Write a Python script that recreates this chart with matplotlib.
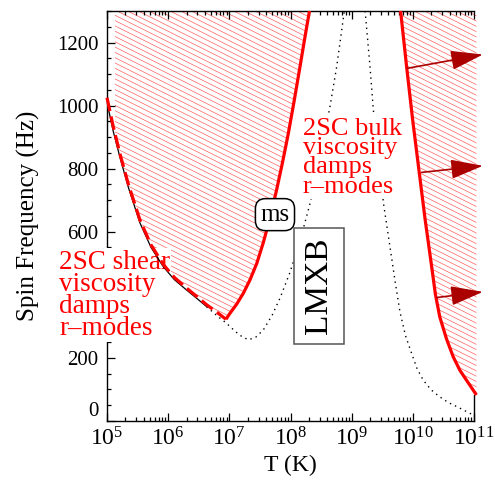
import numpy as np
import matplotlib
matplotlib.use('Agg')
import matplotlib.pyplot as plt
from matplotlib.patches import Polygon
from matplotlib.collections import LineCollection
from matplotlib.ticker import LogLocator, MultipleLocator, FuncFormatter, NullFormatter

plt.rcParams['font.family'] = ['Liberation Serif', 'DejaVu Serif']
plt.rcParams['mathtext.fontset'] = 'custom'
plt.rcParams['mathtext.rm'] = 'Liberation Serif'
plt.rcParams['mathtext.it'] = 'Liberation Serif:italic'
plt.rcParams['mathtext.bf'] = 'Liberation Serif:bold'

# ---------------- data (log10 T [K], spin frequency [Hz]) ----------------
# ordinary neutron-star r-mode window (black), low-T branch
ms_low_logT = [5.00, 5.10, 5.21, 5.35, 5.54, 5.72, 5.92, 6.10, 6.30, 6.47, 6.63,
               6.80, 6.95, 7.10, 7.20, 7.31, 7.43, 7.555, 7.70, 7.83, 7.99, 8.155,
               8.32, 8.50, 8.645, 8.755, 8.88]
ms_low_f = [1010, 920, 837, 740, 627, 550, 489, 448, 415, 388, 362,
            333, 310, 283, 268, 257, 265, 288, 335, 390, 470, 570,
            690, 850, 996, 1123, 1300]
# high-T branch (black dotted)
ms_high_logT = [9.22, 9.30, 9.355, 9.44, 9.52, 9.62, 9.72, 9.79, 9.88, 9.98,
                10.07, 10.17, 10.30, 10.44, 10.58, 10.72, 10.85, 10.93, 11.0]
ms_high_f = [1300, 1123, 985, 830, 690, 560, 430, 345, 270, 214,
             165, 129, 98, 76, 58, 45, 32, 24, 18]
# 2SC shear viscosity boundary (red dashed part, then red solid rising part)
shear_logT = [5.00, 5.10, 5.21, 5.35, 5.54, 5.72, 5.92, 6.10, 6.30, 6.47, 6.63,
              6.80, 6.945]
shear_f = [1025, 935, 848, 750, 636, 558, 496, 455, 421, 394, 368, 344, 322]
rise_logT = [6.945, 7.01, 7.12, 7.23, 7.34, 7.45, 7.555, 7.66, 7.77, 7.87,
             7.965, 8.06, 8.155, 8.23, 8.31]
rise_f = [322, 341, 370, 405, 448, 500, 565, 640, 730, 820,
          912, 1015, 1123, 1210, 1300]
# 2SC bulk viscosity boundary (red solid)
bulk_logT = [9.80, 9.90, 10.00, 10.10, 10.20, 10.30, 10.37, 10.44, 10.55,
             10.66, 10.77, 10.88, 10.96, 11.04]
bulk_f = [1300, 1120, 950, 795, 640, 500, 400, 330, 260, 203, 160, 128, 105, 82]
# arrows: start on bulk curve -> tip
arrow_start_logT = [9.905, 10.145, 10.39]
arrow_start_f = [1118, 788, 391]
arrow_tip_logT = [11.147, 11.147, 11.147]
arrow_tip_f = [1162, 809, 409]

x_ticks_exp = [5, 6, 7, 8, 9, 10, 11]
y_ticks = [0, 200, 400, 600, 800, 1000, 1200]
y_tick_labels = ['0', '200', '', '600', '800', '1000', '1200']  # 400 hidden by label box

T = lambda a: 10.0 ** np.asarray(a)

# ---------------- figure ----------------
W, H = 495, 480
fig = plt.figure(figsize=(W / 100, H / 100), dpi=100)
ax_l, ax_r, ax_t, ax_b = 107, 474, 11, 420.8
ax = fig.add_axes([ax_l / W, 1 - ax_b / H, (ax_r - ax_l) / W, (ax_b - ax_t) / H])
ax.set_xscale('log')
ax.set_xlim(1e5, 1e11)
ax.set_ylim(0, 1300)

red = '#ff0000'
hatch_col = '#ff5f5f'

# hatch regions
top = 1300
left_x0 = 5.13
left_poly = ([(T(left_x0), top), (T(left_x0), np.interp(left_x0, shear_logT, shear_f))]
             + [(T(a), b) for a, b in zip(shear_logT, shear_f) if a > left_x0]
             + [(T(a), b) for a, b in zip(rise_logT[1:], rise_f[1:])])
right_poly = [(T(a), b) for a, b in zip(bulk_logT, bulk_f)] + [(T(bulk_logT[-1]), top)]

Wa, Ha = ax_r - ax_l, ax_b - ax_t
slope = 0.5 * Wa / Ha
cs = np.arange(-0.1, 1.8, 5.3 / Ha)
segs = [[(-0.05, c + slope * 0.05), (1.05, c - slope * 1.05)] for c in cs]
for pts in (left_poly, right_poly):
    poly = Polygon(pts, closed=True, facecolor='none', edgecolor='none',
                   transform=ax.transData, clip_on=False)
    ax.add_patch(poly)
    lc = LineCollection(segs, transform=ax.transAxes, colors=hatch_col,
                        linewidths=0.5, zorder=1)
    lc.set_clip_path(poly)
    ax.add_collection(lc, autolim=False)

# black curves
low = np.array(ms_low_logT)
lowf = np.array(ms_low_f)
solid = low <= 6.63
dotted = low >= 6.63
ax.plot(T(low[solid]), lowf[solid], color='black', lw=0.9, zorder=3)
ax.plot(T(low[dotted]), lowf[dotted], color='black', lw=1.0, ls=(0, (1, 3)), zorder=2)
ax.plot(T(ms_high_logT), ms_high_f, color='black', lw=1.0, ls=(0, (1, 3)), zorder=2)

# red boundaries
ax.plot(T(shear_logT), shear_f, color=red, lw=2.3, ls=(0, (4.3, 1.7)), zorder=3,
        clip_on=False)
ax.plot(T(rise_logT), rise_f, color=red, lw=2.3, zorder=3, solid_capstyle='butt')
ax.plot(T(bulk_logT), bulk_f, color=red, lw=2.3, zorder=3, clip_on=False,
        solid_capstyle='butt')

# arrows
for sx, sy, tx, ty in zip(arrow_start_logT, arrow_start_f, arrow_tip_logT, arrow_tip_f):
    ax.annotate('', xy=(T(tx), ty), xytext=(T(sx), sy), annotation_clip=False,
                arrowprops=dict(arrowstyle='-|>,head_length=1.0,head_width=0.3',
                                mutation_scale=20, color='#aa0000', lw=1.2,
                                shrinkA=0, shrinkB=0), zorder=6)

# labels inside plot
ax.text(T(8.204), 962, '2SC bulk\nviscosity\ndamps\nr–modes', color=red, fontsize=19,
        ha='left', va='top', linespacing=0.85, zorder=2.8,
        bbox=dict(facecolor='white', edgecolor='none', pad=1))
ax.text(T(4.215), 543, '2SC shear\nviscosity\ndamps\nr–modes', color=red, fontsize=19.5,
        ha='left', va='top', linespacing=0.85, zorder=2.8, clip_on=False,
        bbox=dict(facecolor='white', edgecolor='none', pad=1))
ax.text(T(7.746), 654, 'ms', fontsize=18, ha='center', va='center', zorder=5,
        bbox=dict(boxstyle='round,pad=0.2,rounding_size=0.4', facecolor='white',
                  edgecolor='black', lw=1.1))
ax.text(T(8.466), 427, 'LMXB', fontsize=24, rotation=90, ha='center', va='center',
        zorder=5, bbox=dict(boxstyle='square,pad=0.3', facecolor='white',
                            edgecolor='#555555', lw=1.1))

# axes styling
for s in ax.spines.values():
    s.set_linewidth(1.0)
    s.set_zorder(2.5)
ax.spines['right'].set_bounds(0, 82)

ax.set_xticks([10.0 ** e for e in x_ticks_exp])
ax.xaxis.set_minor_locator(LogLocator(base=10, subs=np.arange(2, 10), numticks=100))
ax.xaxis.set_major_formatter(FuncFormatter(lambda v, p: r'$\mathregular{10^{%d}}$' % round(np.log10(v))))
ax.xaxis.set_minor_formatter(NullFormatter())
ax.set_yticks(y_ticks)
ax.set_yticklabels(y_tick_labels)
ax.yaxis.set_minor_locator(MultipleLocator(50))

ax.tick_params(axis='both', which='both', direction='in', top=True, right=False,
               labelsize=15, width=0.9)
ax.tick_params(axis='both', which='major', length=6)
ax.tick_params(axis='both', which='minor', length=3)
ax.tick_params(axis='x', which='major', pad=5, labelsize=17)
ax.tick_params(axis='y', which='major', pad=6)
ax.get_yticklabels()[0].set_va('bottom')

ax.set_xlabel('T (K)', fontsize=17, labelpad=3)
ax.set_ylabel('Spin Frequency (Hz)', fontsize=18, labelpad=12)

fig.savefig('out.png', dpi=100)
